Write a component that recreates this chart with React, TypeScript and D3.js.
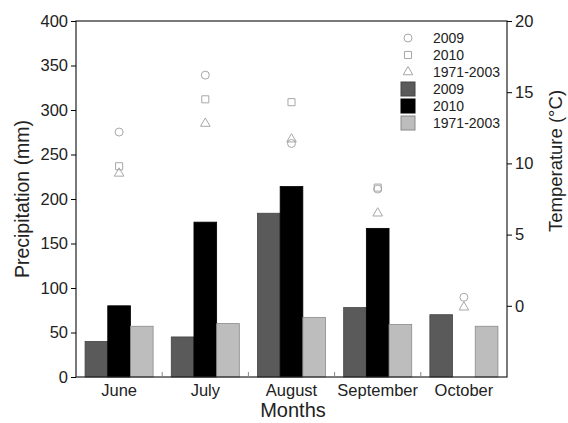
import React, { useEffect, useRef } from 'react';
import * as d3 from 'd3';

const months = ['June', 'July', 'August', 'September', 'October'];
const series = ['2009', '2010', '1971-2003'];

// precipitation (mm), bars
const precip2009 = [40, 45, 184, 78, 70];
const precip2010 = [80, 174, 214, 167, 0];
const precipNormal = [57, 60, 67, 59, 57];

// temperature (°C), markers; null = no value
const temp2009 = [12.2, 16.2, 11.4, 8.2, 0.6];
const temp2010 = [9.8, 14.5, 14.3, 8.3, null];
const tempNormal = [9.3, 12.8, 11.7, 6.5, -0.1];

const precipTicks = [0, 50, 100, 150, 200, 250, 300, 350, 400];
const tempTicks = [0, 5, 10, 15, 20];

const barColors = ['#5a5a5a', '#000000', '#bdbdbd'];
const barStrokes = ['#444', '#000', '#8a8a8a'];
const markerColor = '#a8a8a8';

const App = () => {
  const ref = useRef<SVGSVGElement>(null);

  useEffect(() => {
    const svg = d3.select(ref.current);
    svg.selectAll('*').remove();

    const margin = { top: 21, right: 61, bottom: 46, left: 76 };
    const width = 568 - margin.left - margin.right;
    const height = 423 - margin.top - margin.bottom;
    const font = 'Liberation Sans, Arial, sans-serif';

    const g = svg.append('g').attr('transform', `translate(${margin.left},${margin.top})`);

    const x0 = d3.scaleBand().domain(months).range([0, width]).padding(0);
    const x1 = d3
      .scaleBand()
      .domain(series)
      .range([0, x0.bandwidth()])
      .paddingInner(0)
      .paddingOuter(0.4);
    const y = d3.scaleLinear().domain([0, 400]).range([height, 0]);
    const yT = d3.scaleLinear().domain([-5, 20]).range([height, 0]);

    const barData = [precip2009, precip2010, precipNormal];

    months.forEach((m, i) => {
      series.forEach((s, j) => {
        const v = barData[j][i];
        if (!v) return;
        g.append('rect')
          .attr('x', x0(m)! + x1(s)!)
          .attr('y', y(v))
          .attr('width', x1.bandwidth())
          .attr('height', height - y(v))
          .attr('fill', barColors[j])
          .attr('stroke', barStrokes[j])
          .attr('stroke-width', 0.8);
      });
    });

    // markers
    const sym = [d3.symbolCircle, d3.symbolSquare, d3.symbolTriangle];
    const tempData = [temp2009, temp2010, tempNormal];
    tempData.forEach((arr, j) => {
      arr.forEach((v, i) => {
        if (v === null) return;
        const cx = x0(months[i])! + x0.bandwidth() / 2;
        g.append('path')
          .attr('d', d3.symbol(sym[j], j === 2 ? 40 : 50)())
          .attr('transform', `translate(${cx},${yT(v)})`)
          .attr('fill', 'none')
          .attr('stroke', markerColor)
          .attr('stroke-width', 1);
      });
    });

    // frame
    g.append('rect')
      .attr('width', width)
      .attr('height', height)
      .attr('fill', 'none')
      .attr('stroke', '#222')
      .attr('stroke-width', 1.2);

    // left axis
    const left = g.append('g').call(d3.axisLeft(y).tickValues(precipTicks).tickSize(5).tickPadding(3));
    left.select('.domain').remove();
    left.selectAll('text').attr('font-size', 16.5).attr('font-family', font).attr('fill', '#222');

    // right axis
    const right = g
      .append('g')
      .attr('transform', `translate(${width},0)`)
      .call(d3.axisRight(yT).tickValues(tempTicks).tickSize(5).tickPadding(3));
    right.select('.domain').remove();
    right.selectAll('text').attr('font-size', 16.5).attr('font-family', font).attr('fill', '#222');

    // bottom: inward ticks at group boundaries
    months.slice(1).forEach((m) => {
      g.append('line')
        .attr('x1', x0(m)!)
        .attr('x2', x0(m)!)
        .attr('y1', height)
        .attr('y2', height - 5)
        .attr('stroke', '#888');
    });
    months.forEach((m) => {
      g.append('text')
        .attr('x', x0(m)! + x0.bandwidth() / 2)
        .attr('y', height + 19)
        .attr('text-anchor', 'middle')
        .attr('font-size', 16.5)
        .attr('font-family', font)
        .attr('fill', '#222')
        .text(m);
    });

    // axis titles
    svg.append('text')
      .attr('x', 293)
      .attr('y', 417)
      .attr('text-anchor', 'middle')
      .attr('font-size', 20)
      .attr('font-family', font)
      .attr('fill', '#222')
      .text('Months');
    svg.append('text')
      .attr('transform', `translate(29,${margin.top + height / 2}) rotate(-90)`)
      .attr('text-anchor', 'middle')
      .attr('font-size', 19.5)
      .attr('font-family', font)
      .attr('fill', '#222')
      .text('Precipitation (mm)');
    svg.append('text')
      .attr('transform', `translate(562,${margin.top + 140}) rotate(-90)`)
      .attr('text-anchor', 'middle')
      .attr('font-size', 18.5)
      .attr('font-family', font)
      .attr('fill', '#222')
      .text('Temperature (°C)');

    // legend
    const lg = svg.append('g').attr('transform', 'translate(408,38)');
    const rowH = 17;
    series.forEach((s, j) => {
      lg.append('path')
        .attr('d', d3.symbol(sym[j], j === 2 ? 40 : 50)())
        .attr('transform', `translate(0,${j * rowH})`)
        .attr('fill', 'none')
        .attr('stroke', markerColor);
      lg.append('text')
        .attr('x', 25)
        .attr('y', j * rowH)
        .attr('dy', '0.35em')
        .attr('font-size', 14)
        .attr('font-family', font)
        .attr('fill', '#222')
        .text(s);
    });
    series.forEach((s, j) => {
      const yy = (j + 3) * rowH;
      lg.append('rect')
        .attr('x', -7)
        .attr('y', yy - 7)
        .attr('width', 14)
        .attr('height', 14)
        .attr('fill', barColors[j])
        .attr('stroke', barStrokes[j]);
      lg.append('text')
        .attr('x', 25)
        .attr('y', yy)
        .attr('dy', '0.35em')
        .attr('font-size', 14)
        .attr('font-family', font)
        .attr('fill', '#222')
        .text(s);
    });
  }, []);

  return <svg ref={ref} width={568} height={423} style={{ position: 'absolute', left: 0, top: 0 }} />;
};

export default App;
